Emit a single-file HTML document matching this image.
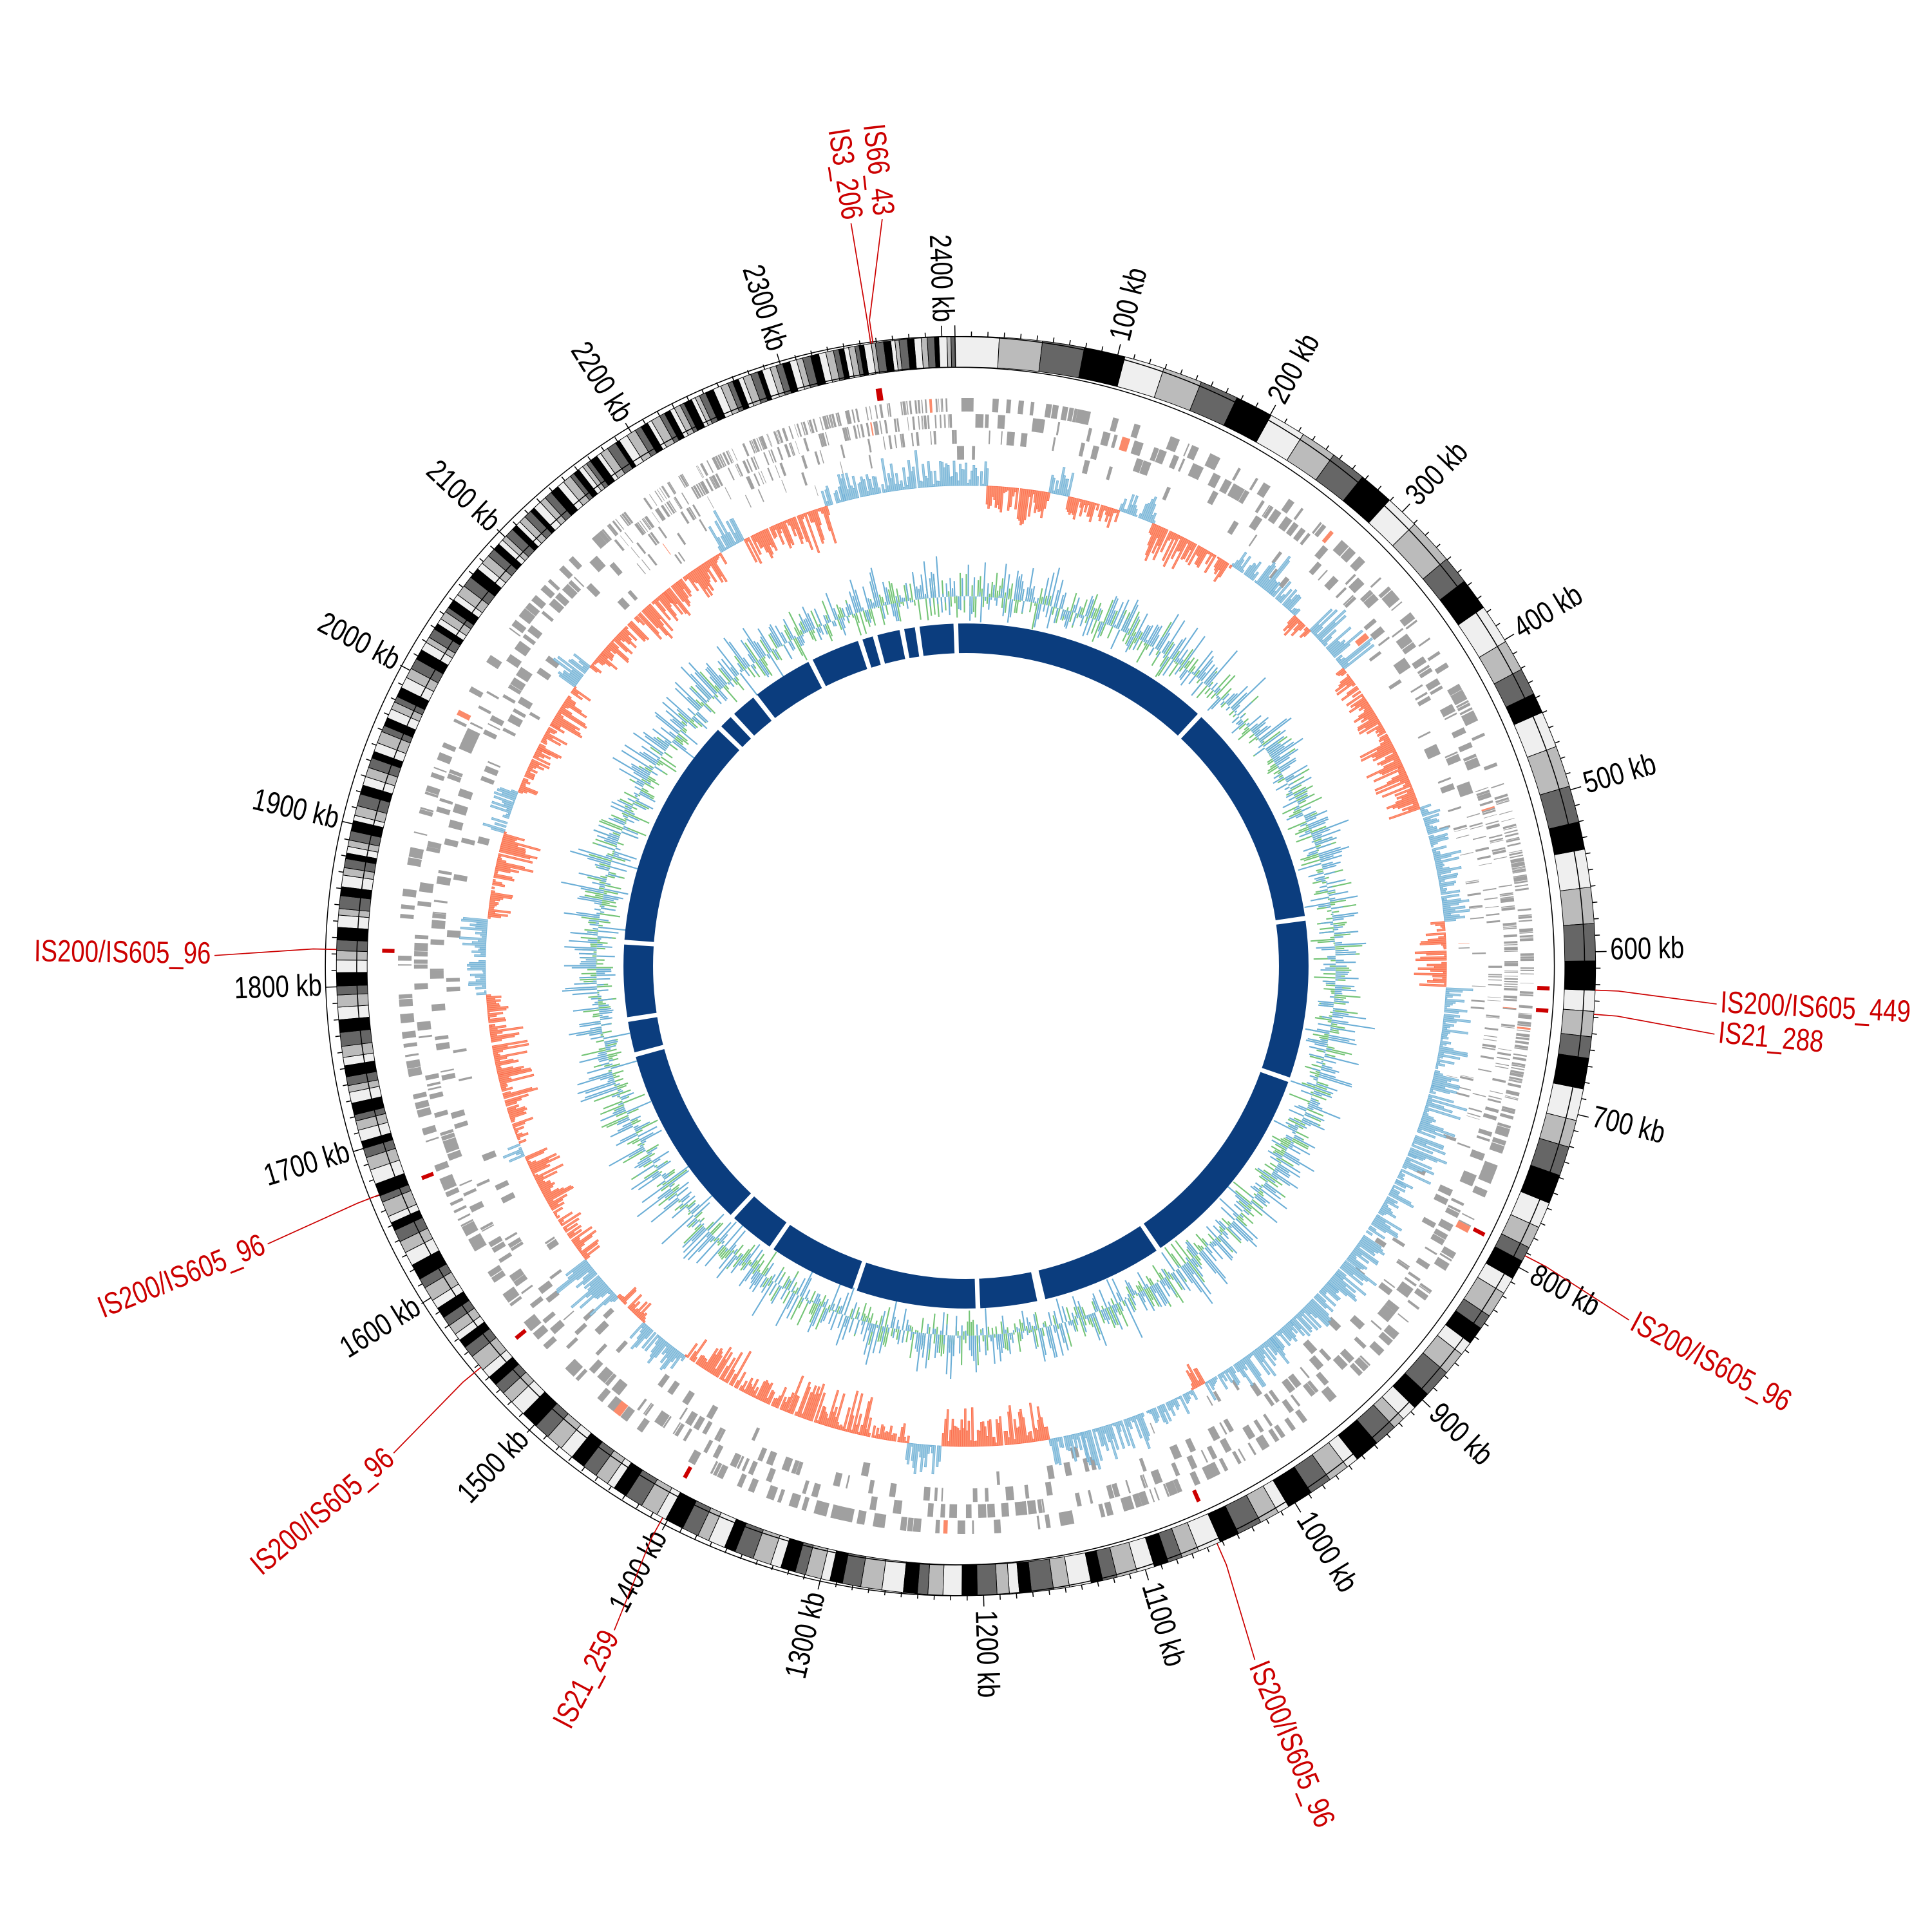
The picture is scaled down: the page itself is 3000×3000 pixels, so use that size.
<!DOCTYPE html>
<html><head><meta charset="utf-8">
<style>html,body{margin:0;padding:0;background:#fff}svg{display:block}</style>
</head><body>
<svg id="s" xmlns="http://www.w3.org/2000/svg" width="3000" height="3000" viewBox="0 0 1568 1568">
<rect width="1568" height="1568" fill="#fff"/>
<g id="g"></g>
</svg>
<script>
(function(){
var C=784, NS="http://www.w3.org/2000/svg", G=document.getElementById('g');
var seed=12345;function rnd(){seed|=0;seed=seed+0x6D2B79F5|0;var t=Math.imul(seed^seed>>>15,1|seed);t=t+Math.imul(t^t>>>7,61|t)^t;return((t^t>>>14)>>>0)/4294967296;}
var TOT=2408;function ang(kb){return -1+kb*0.1495;}
function pt(a,r){var t=(a-90)*Math.PI/180;return [(C+r*Math.cos(t)).toFixed(2),(C+r*Math.sin(t)).toFixed(2)];}
function sector(a1,a2,r1,r2){var l=(a2-a1)>180?1:0;var p1=pt(a1,r2),p2=pt(a2,r2),p3=pt(a2,r1),p4=pt(a1,r1);
return "M"+p1+"A"+r2+","+r2+" 0 "+l+" 1 "+p2+"L"+p3+"A"+r1+","+r1+" 0 "+l+" 0 "+p4+"Z";}
function add(tag,attrs,txt){var e=document.createElementNS(NS,tag);for(var k in attrs)e.setAttribute(k,attrs[k]);if(txt!==undefined)e.textContent=txt;G.appendChild(e);return e;}
// ideogram
var cols=["#efefef","#bbbbbb","#666666","#000000"],pos=0,i=0,ideo=["","","",""];
while(pos<TOT){var w=27*Math.exp(-pos/1200);if(pos>300)w*=0.6+rnd()*0.8;w=Math.max(w,1.5);var e=Math.min(pos+w,TOT);
ideo[i%4]+=sector(ang(pos),ang(e),486,511);pos=e;i++;}
for(var c=0;c<4;c++)add('path',{d:ideo[c],fill:cols[c],stroke:"#000","stroke-width":0.5});
add('path',{d:sector(ang(0),ang(TOT)-0.001,486,511),fill:"none",stroke:"#000","stroke-width":0.8});
// ticks
var td="";for(var k=0;k<=2400;k+=10){var big=k%100==0;var a=pt(ang(k),511),b=pt(ang(k),big?520:515);td+="M"+a+"L"+b;}
add('path',{d:td,stroke:"#000","stroke-width":0.8,fill:"none"});
// labels
function rlabel(a,r,txt,color,size){var p=pt(a,r),rot,anchor;var aa=((a%360)+360)%360;
if(aa<180){rot=aa-90;anchor="start";}else{rot=aa+90;anchor="end";}
add('text',{x:0,y:0,transform:"translate("+p[0]+" "+p[1]+") rotate("+rot.toFixed(2)+") scale(0.8,1)","text-anchor":anchor,"dominant-baseline":"middle",
"font-family":"'Liberation Sans Narrow','Liberation Sans',sans-serif","font-size":size,fill:color},txt);}
for(var k=100;k<=2400;k+=100)rlabel(ang(k),523,k+" kb","#000",25);
// genes
var gd="",gr="";var lev=[[450,461],[437,448],[424,435],[411,422],[400,409]];pos=0;
while(pos<TOT){var dense=(pos>480&&pos<720)||(pos>2150);var L=dense?0.3+rnd()*1.5:0.8+rnd()*5;
var q=rnd();var lv=q<0.4?0:q<0.75?1:q<0.9?2:q<0.97?3:4;var s=sector(ang(pos),ang(Math.min(pos+L,TOT)),lev[lv][0],lev[lv][1]);
if(rnd()<0.01)gr+=s;else gd+=s;pos+=L*(0.5+rnd()*0.6)+rnd()*0.6;}
add('path',{d:gd,fill:"#a0a0a0"});add('path',{d:gr,fill:"#fb8a6a"});
// GC skew
var segs=[];pos=0;while(pos<TOT){var len=10+rnd()*35;var pb=pos<600?0.5:pos<1000?0.82:pos<1500?0.5:0.3;segs.push([pos,pos+len,rnd()<pb?1:-1,0.5+rnd()*0.6]);pos+=len;}
var bd="",rd="",R0=390;for(var j=0;j<segs.length;j++){var sg=segs[j];for(var b=sg[0];b<sg[1]&&b<TOT;b+=1.5){
var v=Math.pow(rnd(),1.3)*32*sg[3];if(v<1)continue;var a1=ang(b),a2=ang(Math.min(b+1.5,TOT));
if(sg[2]>0)bd+=sector(a1,a2,R0,R0+v);else rd+=sector(a1,a2,R0-v,R0);}}
add('path',{d:bd,fill:"#9ecae1",stroke:"#6baed6","stroke-width":0.4});
add('path',{d:rd,fill:"#fc9272",stroke:"#fb6a4a","stroke-width":0.4});
// line graph
var ld="",ld2="",R1=300;for(var b=0;b<TOT;b+=2){var a=ang(b+1);
var v1=(rnd()-0.4)*60*(0.4+rnd()*0.7),v2=(rnd()-0.45)*45*(0.4+rnd()*0.7);
ld2+="M"+pt(a,R1)+"L"+pt(a,R1+v2);ld+="M"+pt(a+0.3,R1)+"L"+pt(a+0.3,R1+v1);}
add('path',{d:ld2,stroke:"#74c476","stroke-width":1.1,fill:"none"});
add('path',{d:ld,stroke:"#6baed6","stroke-width":1.1,fill:"none"});
// inner ring
var gaps=[-1.7,342,344.6,349.2,351.8,333,322,317,314,43,82,109.4,145.8,167,178,199,214.6,223,255,261,274].map(function(x){return (x+360)%360;}).sort(function(a,b){return a-b;});
var ir="";for(var j=0;j<gaps.length;j++){var a1=gaps[j]+0.4,a2=(j+1<gaps.length?gaps[j+1]:gaps[0]+360)-0.4;var gw=(gaps[j]==167?1.0:0.4);ir+=sector(a1+(gw-0.4),a2,254,278);}
add('path',{d:ir,fill:"#0b3d7e"});
// IS markers & labels
var IS=[[351.5,353.6,"IS66_43"],[351.3,351.2,"IS3_206"],[271.5,270.8,"IS200/IS605_96"],[92.2,92.9,"IS200/IS605_449"],[94.4,95.2,"IS21_288"],
[117.4,118.1,"IS200/IS605_96"],[156.5,157.4,"IS200/IS605_96"],[208.8,207.9,"IS21_259"],[230.4,229.6,"IS200/IS605_96"],[248.7,248.3,"IS200/IS605_96"]];
var md="",lnd="";IS.forEach(function(x){md+=sector(x[0]-0.2,x[0]+0.2,464,474);
lnd+="M"+pt(x[0],511)+"L"+pt(x[0],530)+"L"+pt(x[1],610);rlabel(x[1],613,x[2],"#cc0000",25);});
add('path',{d:md,fill:"#cc0000"});add('path',{d:lnd,stroke:"#cc0000","stroke-width":0.9,fill:"none"});
})();
</script>
</body></html>
